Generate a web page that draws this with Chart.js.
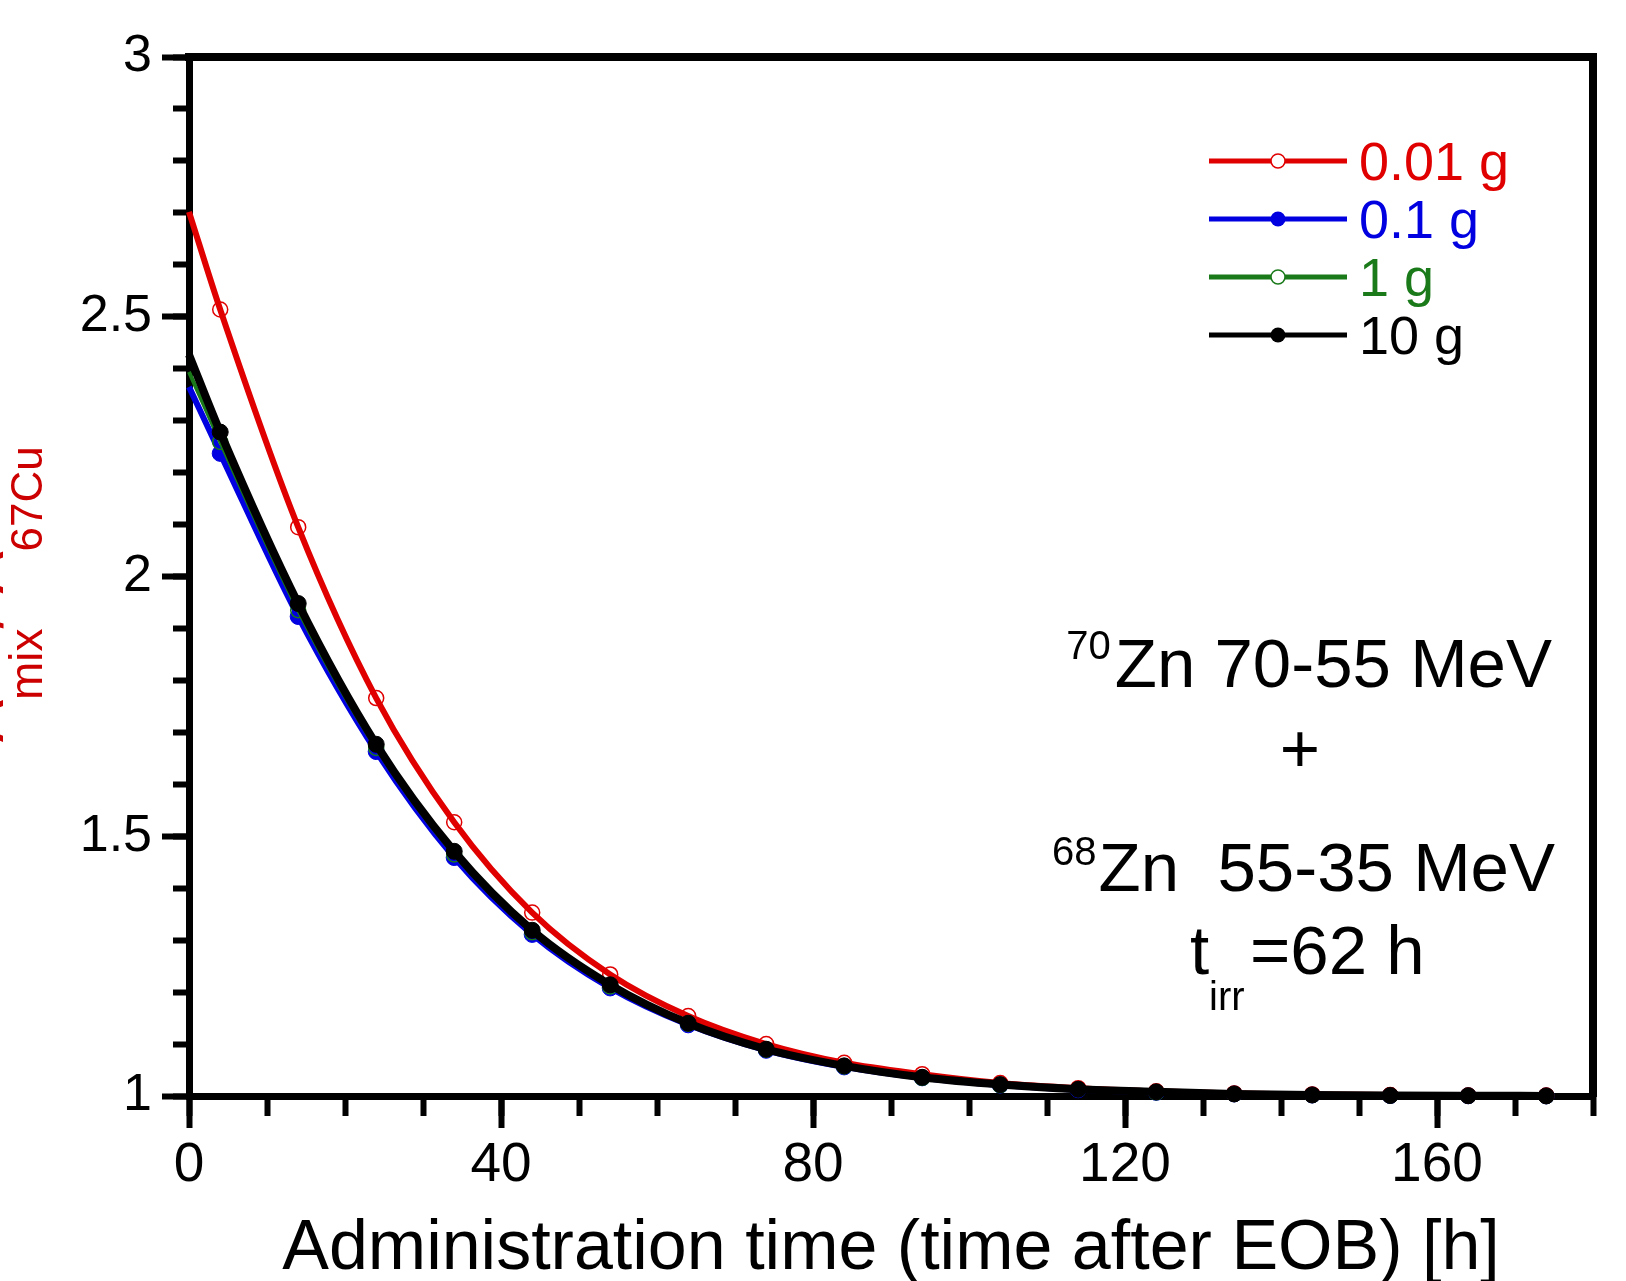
<!DOCTYPE html>
<html>
<head>
<meta charset="utf-8">
<title>Activity ratio after EOB</title>
<script src="https://cdn.jsdelivr.net/npm/chart.js@4.4.1/dist/chart.umd.min.js"></script>
<style>
  html, body { margin: 0; padding: 0; background: #fff; }
  canvas { display: block; }
</style>
</head>
<body>
<canvas id="chart" width="1626" height="1281"></canvas>
<script>
// administration time (h after EOB)
const times = [0, 4, 14, 24, 34, 44, 54, 64, 74, 84, 94, 104, 114, 124, 134, 144, 154, 164, 174];

// activity ratio for each target mass
const ratio001g = [2.702, 2.514, 2.095, 1.766, 1.527, 1.353, 1.234, 1.154, 1.100, 1.064, 1.042, 1.025, 1.015, 1.009, 1.005, 1.003, 1.002, 1.001, 1.001];
const ratio01g  = [2.365, 2.237, 1.923, 1.663, 1.459, 1.311, 1.208, 1.137, 1.088, 1.056, 1.035, 1.021, 1.012, 1.007, 1.004, 1.002, 1.001, 1.0005, 1.0002];
const ratio1g   = [2.394, 2.259, 1.935, 1.670, 1.465, 1.315, 1.211, 1.139, 1.089, 1.057, 1.035, 1.021, 1.013, 1.007, 1.004, 1.002, 1.001, 1.0005, 1.0002];
const ratio10g  = [2.427, 2.278, 1.948, 1.677, 1.471, 1.319, 1.214, 1.140, 1.090, 1.058, 1.036, 1.022, 1.013, 1.008, 1.004, 1.002, 1.001, 1.0005, 1.0002];

const seriesLabels = ['0.01 g', '0.1 g', '1 g', '10 g'];
const xTicks = [0, 40, 80, 120, 160];
const yTicks = [1, 1.5, 2, 2.5, 3];
const xTitle = 'Administration time (time after EOB) [h]';

const FONT = "'Liberation Sans', Arial, sans-serif";
Chart.defaults.font.family = FONT;
Chart.defaults.color = '#000';

// look of each curve
const styles = [
  { values: ratio001g, color: '#e00000', width: 6, radius: 7.5, hollow: true,  order: 2 },
  { values: ratio01g,  color: '#0000e0', width: 6, radius: 8,   hollow: false, order: 4 },
  { values: ratio1g,   color: '#1a7a1a', width: 4, radius: 7.5, hollow: true,  order: 3 },
  { values: ratio10g,  color: '#000000', width: 8, radius: 8,   hollow: false, order: 1 }
];

const datasets = styles.map((s, k) => ({
  label: seriesLabels[k],
  data: times.map((t, i) => ({ x: t, y: s.values[i] })),
  borderColor: s.color,
  borderWidth: s.width,
  pointRadius: times.map((t, i) => i === 0 ? 0 : s.radius),
  pointBackgroundColor: s.hollow ? 'rgba(0,0,0,0)' : s.color,
  pointBorderColor: s.color,
  pointBorderWidth: s.hollow ? 1.5 : 1,
  cubicInterpolationMode: 'monotone',
  order: s.order,
  clip: false,
  xAxisID: 'x',
  yAxisID: 'y'
}));

// y title, legend and the note on the right are drawn here
const extras = {
  id: 'extras',
  afterDraw(chart) {
    const ctx = chart.ctx;
    ctx.save();

    // y axis title (cut off at the left edge)
    ctx.save();
    ctx.translate(0, 742);
    ctx.rotate(-Math.PI / 2);
    ctx.fillStyle = '#cc0000';
    ctx.textAlign = 'left';
    ctx.textBaseline = 'alphabetic';
    let u = 0;
    [['A', 63, 3], ['mix', 46, 42], ['/ A', 63, 3], ['67Cu', 44, 42]].forEach(([t, size, base]) => {
      ctx.font = size + 'px ' + FONT;
      ctx.fillText(t, u, base);
      u += ctx.measureText(t).width;
    });
    ctx.restore();

    // legend
    styles.forEach((s, k) => {
      const y = 161 + k * 58;
      ctx.strokeStyle = s.color;
      ctx.lineWidth = 5;
      ctx.beginPath();
      ctx.moveTo(1209, y);
      ctx.lineTo(1347, y);
      ctx.stroke();
      ctx.beginPath();
      ctx.arc(1278, y, s.hollow ? 7 : 7.5, 0, Math.PI * 2);
      if (s.hollow) {
        ctx.fillStyle = '#fff';
        ctx.fill();
        ctx.lineWidth = 1.5;
        ctx.stroke();
      } else {
        ctx.fillStyle = s.color;
        ctx.fill();
      }
      ctx.fillStyle = s.color;
      ctx.font = '54px ' + FONT;
      ctx.textAlign = 'left';
      ctx.textBaseline = 'alphabetic';
      ctx.fillText(seriesLabels[k], 1359, y + 19);
    });

    // note
    ctx.fillStyle = '#000';
    ctx.textBaseline = 'alphabetic';
    ctx.textAlign = 'right';
    ctx.font = '69px ' + FONT;
    const l1 = 'Zn 70-55 MeV';
    ctx.fillText(l1, 1552, 687);
    let w = ctx.measureText(l1).width;
    ctx.font = '40px ' + FONT;
    ctx.fillText('70', 1552 - w - 4, 659);

    ctx.textAlign = 'center';
    ctx.font = '69px ' + FONT;
    ctx.fillText('+', 1300, 772);

    ctx.textAlign = 'right';
    const l3 = 'Zn  55-35 MeV';
    ctx.fillText(l3, 1555, 891);
    w = ctx.measureText(l3).width;
    ctx.font = '40px ' + FONT;
    ctx.fillText('68', 1555 - w - 2, 865);

    ctx.textAlign = 'left';
    ctx.font = '69px ' + FONT;
    ctx.fillText('t', 1190, 974);
    ctx.font = '40px ' + FONT;
    ctx.fillText('irr', 1209, 1010);
    ctx.font = '69px ' + FONT;
    ctx.fillText('=62 h', 1250, 974);

    ctx.restore();
  }
};

const frame = { display: true, color: '#000', width: 8 };
const noGrid = { drawOnChartArea: false, drawTicks: false };

new Chart(document.getElementById('chart'), {
  type: 'line',
  data: { datasets },
  options: {
    responsive: false,
    animation: false,
    devicePixelRatio: 1,
    events: [],
    layout: { padding: { top: 57, right: 33, left: 0, bottom: 0 } },
    plugins: { legend: { display: false }, tooltip: { enabled: false } },
    scales: {
      x: {
        type: 'linear', position: 'bottom', min: 0, max: 180, weight: 1,
        afterBuildTicks: s => { s.ticks = xTicks.map(v => ({ value: v })); },
        afterFit: s => { s.height = 185; },
        grid: { drawOnChartArea: false, tickLength: 32, tickWidth: 6, tickColor: '#000' },
        border: { display: true, color: '#000', width: 7 },
        ticks: { font: { size: 55 }, color: '#000', padding: 5, maxRotation: 0, autoSkip: false },
        title: { display: true, text: xTitle, color: '#000', font: { size: 70, lineHeight: 1 }, padding: { top: 0, bottom: -4 } }
      },
      xMinor: {
        type: 'linear', position: 'bottom', min: 0, max: 180, weight: 0,
        afterFit: s => { s.height = 0; },
        grid: { drawOnChartArea: false, tickLength: 20, tickWidth: 6, tickColor: '#000' },
        border: { display: false },
        ticks: { display: false, stepSize: 10, autoSkip: false }
      },
      y: {
        type: 'linear', position: 'left', min: 1, max: 3, weight: 1,
        afterBuildTicks: s => { s.ticks = yTicks.map(v => ({ value: v })); },
        afterFit: s => { s.width = 189; },
        grid: { drawOnChartArea: false, tickLength: 27, tickWidth: 6, tickColor: '#000' },
        border: { display: true, color: '#000', width: 7 },
        ticks: { font: { size: 52 }, color: '#000', padding: 10, autoSkip: false, callback: v => String(v) }
      },
      yMinor: {
        type: 'linear', position: 'left', min: 1, max: 3, weight: 0,
        afterFit: s => { s.width = 0; },
        grid: { drawOnChartArea: false, tickLength: 16, tickWidth: 6, tickColor: '#000' },
        border: { display: false },
        ticks: { display: false, stepSize: 0.1, autoSkip: false }
      },
      xTop: {
        type: 'linear', position: 'top', min: 0, max: 180,
        afterFit: s => { s.height = 0; },
        grid: noGrid, border: frame, ticks: { display: false }
      },
      yRight: {
        type: 'linear', position: 'right', min: 1, max: 3,
        afterFit: s => { s.width = 0; },
        grid: noGrid, border: frame, ticks: { display: false }
      }
    }
  },
  plugins: [extras]
});
</script>
</body>
</html>
